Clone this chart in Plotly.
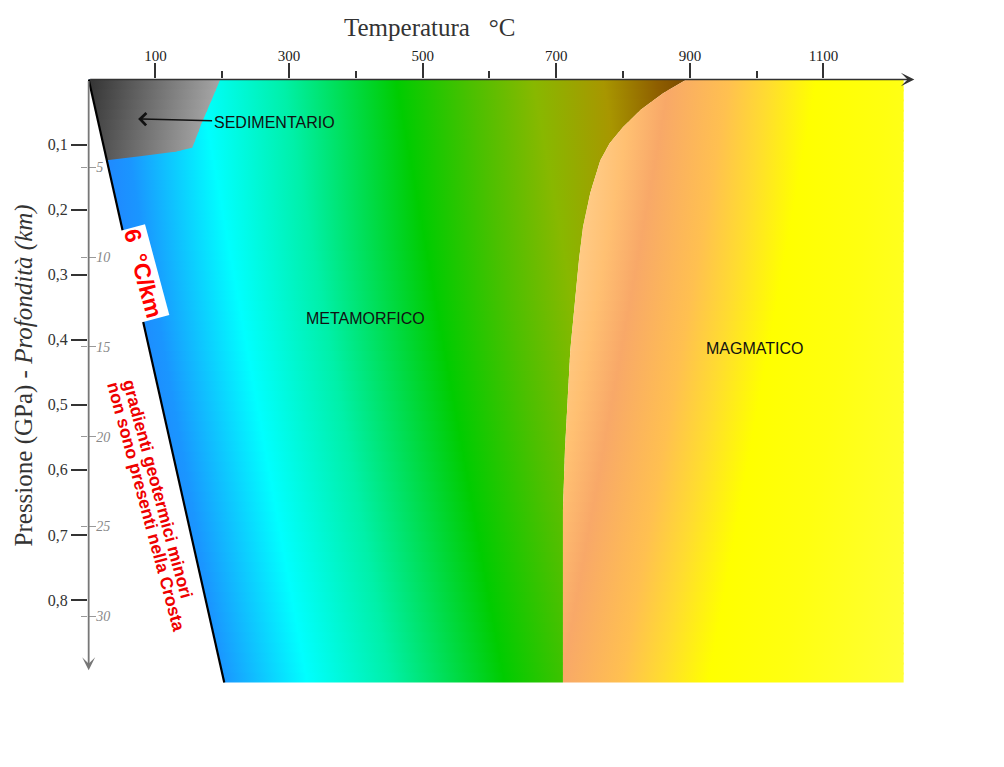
import numpy as np
import plotly.graph_objects as go

# ---------------- data ----------------
temp_ticks = [100, 300, 500, 700, 900, 1100]
temp_tick_labels = ["100", "300", "500", "700", "900", "1100"]
temp_minor_ticks = [200, 400, 600, 800, 1000]

pressure_ticks = [0.1, 0.2, 0.3, 0.4, 0.5, 0.6, 0.7, 0.8]
pressure_labels = ["0,1", "0,2", "0,3", "0,4", "0,5", "0,6", "0,7", "0,8"]

depth_ticks = [5, 10, 15, 20, 25, 30]
depth_labels = ["5", "10", "15", "20", "25", "30"]
gpa_per_km = 0.0276
depth_offset_gpa = 0.0029

# 6 °C/km geotherm (left limit of the field)
geotherm_T = [0, 203]
geotherm_P = [0.0, 0.927]

# sedimentary field, right/bottom boundary
sed_T = [197, 168, 160, 155, 129, 77, 27]
sed_P = [0.0, 0.070, 0.092, 0.105, 0.111, 0.118, 0.124]

# magmatic field, left boundary (solidus)
magma_T = [895, 860, 826, 800, 780, 766, 751, 740, 734, 721, 713, 710, 710]
magma_P = [0.0, 0.021, 0.047, 0.073, 0.098, 0.124, 0.174, 0.227, 0.277, 0.416, 0.569, 0.662, 0.927]

field_T_max = 1220
field_P_max = 0.927

# colour gradients (position in °C along the tilted gradient)
meta_u = [0, 40, 165, 290, 460, 570, 665, 770, 850, 900]
meta_colors = ["#2088ff", "#1a96ff", "#00ffff", "#00f0a8", "#00cc00", "#4cc000",
               "#88b800", "#a89600", "#8e5e00", "#7a4800"]
magma_v = [760, 820, 870, 960, 1020, 1090, 1200, 1420]
magma_colors = ["#ffd090", "#ffc072", "#f8a868", "#ffc050", "#ffdc30", "#ffff00",
                "#ffff10", "#ffff40"]
sed_g = [0, 200]
sed_colors = ["#333333", "#a6a6a6"]


def band(p0, p1, lp_arr, lt_arr, rp_arr, rt_arr):
    lp = [p0] + [p for p in lp_arr if p0 < p < p1] + [p1]
    rp = [p0] + [p for p in rp_arr if p0 < p < p1] + [p1]
    lt = list(np.interp(lp, lp_arr, lt_arr))
    rt = list(np.interp(rp, rp_arr, rt_arr))
    xs = lt + rt[::-1] + [lt[0]]
    ys = lp + rp[::-1] + [lp[0]]
    return xs, ys


def gradient_strips(p_top, p_bot, n, lp_arr, lt_arr, rp_arr, rt_arr, stops, colors, k):
    traces = []
    edges = np.linspace(p_top, p_bot, n + 1)
    u0, u1 = stops[0], stops[-1]
    cs = [[(u - u0) / (u1 - u0), c] for u, c in zip(stops, colors)]
    for i in range(n):
        p0 = edges[i]
        p1 = min(edges[i + 1] + 0.003, p_bot)
        xs, ys = band(p0, p1, lp_arr, lt_arr, rp_arr, rt_arr)
        pm = 0.5 * (edges[i] + edges[i + 1])
        traces.append(go.Scatter(
            x=xs, y=ys, mode="none", fill="toself",
            fillgradient=dict(type="horizontal", colorscale=cs,
                              start=u0 + k * pm, stop=u1 + k * pm),
            hoverinfo="skip", showlegend=False))
    return traces


fig = go.Figure()

# metamorphic field
for t in gradient_strips(0.0, field_P_max, 60, geotherm_P, geotherm_T,
                         magma_P, magma_T, meta_u, meta_colors, 175):
    fig.add_trace(t)
# magmatic field
for t in gradient_strips(0.0, field_P_max, 60, magma_P, magma_T,
                         [0.0, field_P_max], [field_T_max, field_T_max],
                         magma_v, magma_colors, -175):
    fig.add_trace(t)
# sedimentary field
for t in gradient_strips(0.0, sed_P[-1], 8, geotherm_P, geotherm_T,
                         sed_P, sed_T, sed_g, sed_colors, -300):
    fig.add_trace(t)

# geotherm line
fig.add_trace(go.Scatter(x=geotherm_T, y=geotherm_P, mode="lines",
                         line=dict(color="black", width=2.2),
                         hoverinfo="skip", showlegend=False))

# dummy traces so the depth axes exist
fig.add_trace(go.Scatter(x=[0], y=[depth_ticks[0]], yaxis="y2", mode="markers",
                         marker=dict(opacity=0), hoverinfo="skip", showlegend=False))
fig.add_trace(go.Scatter(x=[0], y=[depth_ticks[0]], yaxis="y3", mode="markers",
                         marker=dict(opacity=0), hoverinfo="skip", showlegend=False))

y_range = [0.9384, -0.0008]
depth_range = [(y_range[0] + depth_offset_gpa) / gpa_per_km,
               (y_range[1] + depth_offset_gpa) / gpa_per_km]

serif = "Liberation Serif"
sans = "Liberation Sans"

fig.update_layout(
    width=1004, height=767,
    margin=dict(l=88, r=89, t=79, b=77),
    paper_bgcolor="white", plot_bgcolor="white",
    showlegend=False,
    xaxis=dict(range=[-1, 1237], side="top", tickvals=temp_ticks, ticktext=temp_tick_labels,
               ticks="outside", ticklen=15, tickwidth=2, tickcolor="#333",
               ticklabelstandoff=-4,
               showgrid=False, zeroline=False, showline=False,
               tickfont=dict(family=serif, size=15, color="#222"),
               minor=dict(tickvals=temp_minor_ticks, ticks="outside", ticklen=7,
                          tickwidth=2, tickcolor="#333", showgrid=False)),
    yaxis=dict(range=y_range, tickvals=pressure_ticks, ticktext=pressure_labels,
               ticks="outside", ticklen=16, tickwidth=2, tickcolor="#333",
               showgrid=False, zeroline=False, showline=False,
               tickfont=dict(family=serif, size=16, color="#333")),
    yaxis2=dict(overlaying="y", side="left", range=depth_range,
                tickvals=depth_ticks, ticktext=depth_labels,
                ticks="inside", ticklen=8, tickwidth=1, tickcolor="#999",
                ticklabelposition="inside",
                tickfont=dict(family=serif, size=14, color="#888", style="italic"),
                showgrid=False, zeroline=False, showline=False),
    yaxis3=dict(overlaying="y", side="left", range=depth_range,
                tickvals=depth_ticks, ticks="outside", ticklen=6, tickwidth=1,
                tickcolor="#999", showticklabels=False,
                showgrid=False, zeroline=False, showline=False),
)

annotations = [
    # axis arrows
    dict(x=1236, y=0.0, ax=0, ay=0.0, xref="x", yref="y", axref="x", ayref="y",
         text="", showarrow=True, arrowhead=3, arrowsize=1.5, arrowwidth=1.5,
         arrowcolor="#333"),
    dict(x=0, y=0.908, ax=0, ay=0.0, xref="x", yref="y", axref="x", ayref="y",
         text="", showarrow=True, arrowhead=3, arrowsize=1.2, arrowwidth=1.8,
         arrowcolor="#777"),
    # axis titles
    dict(x=0.4135, y=1.0836, xref="paper", yref="paper", showarrow=False,
         xanchor="center", yanchor="middle",
         text="Temperatura\u00a0\u00a0 °C", font=dict(family=serif, size=25, color="#333")),
    dict(x=-0.0774, y=0.5148, xref="paper", yref="paper", showarrow=False, textangle=-90,
         xanchor="center", yanchor="middle",
         text="Pressione (GPa) - <i>Profondità (km)</i>",
         font=dict(family=serif, size=25, color="#333")),
    # field labels
    dict(x=74, y=0.0607, xref="x", yref="y", ax=136, ay=3, text="SEDIMENTARIO",
         showarrow=True, arrowhead=4, arrowsize=1.6, arrowwidth=1.5, arrowcolor="#111",
         standoff=0, font=dict(family=sans, size=16, color="#111")),
    dict(x=414, y=0.3666, xref="x", yref="y", showarrow=False, text="METAMORFICO",
         font=dict(family=sans, size=16, color="#111")),
    dict(x=996, y=0.414, xref="x", yref="y", showarrow=False, text="MAGMATICO",
         font=dict(family=sans, size=16, color="#111")),
    # geotherm label
    dict(x=81.4, y=0.2974, xref="x", yref="y", showarrow=False, textangle=75,
         text="<b>6\u00a0 °C/km</b>", bgcolor="white", borderpad=1,
         font=dict(family=sans, size=23, color="#ff0000")),
    dict(x=103.5, y=0.6294, xref="x", yref="y", showarrow=False, textangle=75,
         text="<b>gradienti geotermici minori</b>",
         font=dict(family=sans, size=17.5, color="#ee0000")),
    dict(x=86.6, y=0.6565, xref="x", yref="y", showarrow=False, textangle=75,
         text="<b>non sono presenti nella Crosta</b>",
         font=dict(family=sans, size=17.5, color="#ee0000")),
]
fig.update_layout(annotations=annotations)

fig.write_html("out.html")
